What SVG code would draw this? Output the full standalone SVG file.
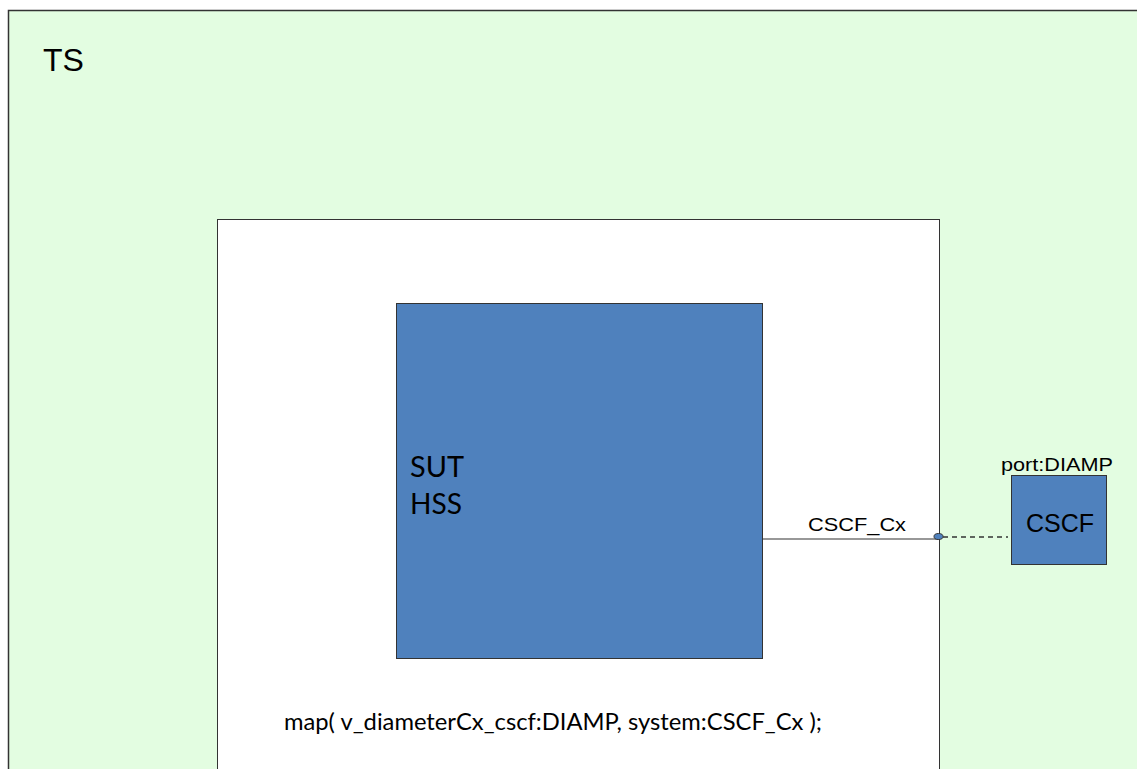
<svg xmlns="http://www.w3.org/2000/svg" width="1137" height="769" viewBox="0 0 1137 769">
<style>
.sans{font-family:"Liberation Sans",Arial,sans-serif;fill:#000}
.cal{font-family:Lato,"Open Sans",sans-serif;fill:#000}
.blue{fill:#4f81bd;stroke:#333;stroke-width:1}
</style>
<rect width="1137" height="769" fill="#fff"/>
<g id="TS">
<rect x="8.5" y="10.5" width="1140" height="770" fill="#e3fde1" stroke="#333" stroke-width="1.5"/>
<text class="sans" x="43" y="71" font-size="32">TS</text>
</g>
<g id="system">
<rect x="217.5" y="219.5" width="722" height="560" fill="#fff" stroke="#333" stroke-width="1"/>
<text class="cal" x="284" y="730" font-size="23" textLength="538" lengthAdjust="spacingAndGlyphs">map( v_diameterCx_cscf:DIAMP, system:CSCF_Cx );</text>
</g>
<g id="SUT">
<rect class="blue" x="396.5" y="303.5" width="366" height="355"/>
<text class="cal" x="410" y="477" font-size="28" textLength="54" lengthAdjust="spacingAndGlyphs">SUT</text>
<text class="cal" x="410" y="514" font-size="28" textLength="52" lengthAdjust="spacingAndGlyphs">HSS</text>
</g>
<g id="CSCF">
<rect class="blue" x="1011.5" y="475.5" width="95" height="89"/>
<text class="sans" x="1060" y="532" font-size="25" text-anchor="middle">CSCF</text>
<text class="sans" x="1001" y="471" font-size="19" textLength="112" lengthAdjust="spacingAndGlyphs">port:DIAMP</text>
</g>
<g id="connectors">
<line x1="763" y1="539" x2="939" y2="539" stroke="#333" stroke-width="1.2"/>
<text class="sans" x="808" y="531" font-size="19" textLength="98" lengthAdjust="spacingAndGlyphs">CSCF_Cx</text>
<line x1="943" y1="537" x2="1008" y2="537" stroke="#333" stroke-width="1.5" stroke-dasharray="5,4"/>
<ellipse cx="938.5" cy="536.5" rx="4.5" ry="3" fill="#4f81bd" stroke="#333" stroke-width="1"/>
</g>
</svg>
